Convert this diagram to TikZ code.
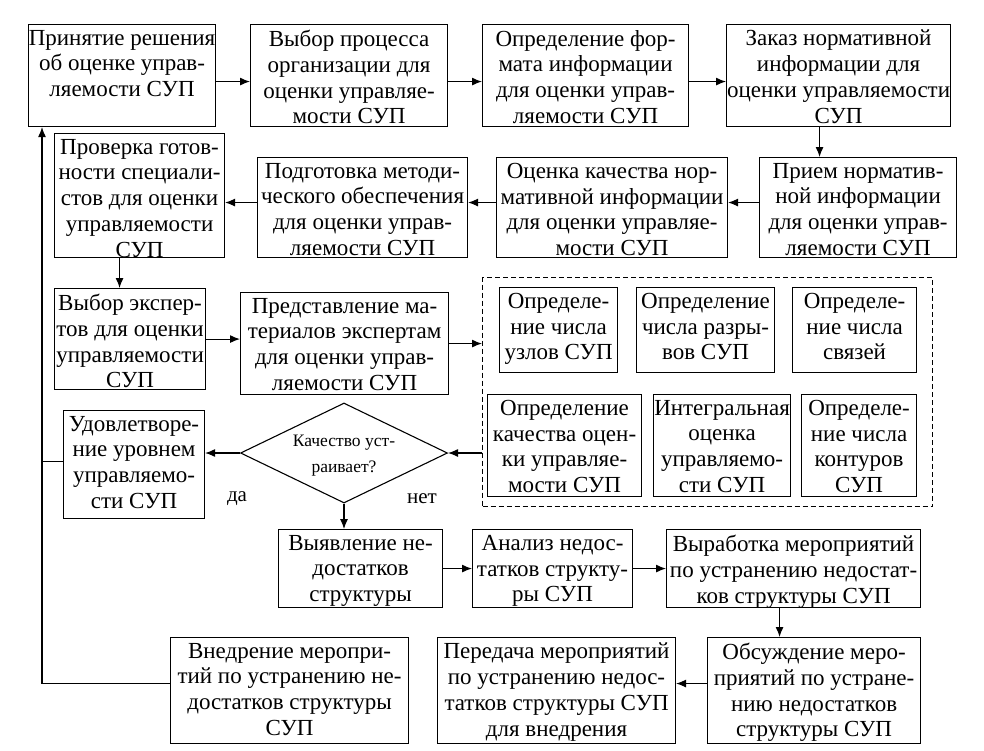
\documentclass[tikz,border=0pt]{standalone}
\usepackage{fontspec}
\setmainfont{Liberation Serif}
\usetikzlibrary{arrows.meta,shapes.geometric,calc}
\newcommand\mybox[6]{%
  \node[box,minimum width={(#4-#2)*1pt},minimum height={(#5-#3)*1pt}] (#1) at (#2,#3) {};
  \node[txt] (#1t) at ([yshift=-6pt]#1.north) {#6};}
\begin{document}
\begin{tikzpicture}[x=1pt,y=-1pt,
  box/.style={draw,line width=1.1pt,inner sep=0pt,anchor=north west},
  txt/.style={font=\fontsize{23}{25.7}\selectfont,align=center,inner sep=0pt,anchor=north},
  lbl/.style={font=\fontsize{21}{25}\selectfont,inner sep=0pt},
  arr/.style={line width=1.1pt,-{Latex[length=10pt,width=8pt]}},
  ln/.style={line width=1.1pt}]
\useasboundingbox (0,0) rectangle (984,750);
% row 1
\mybox{b1}{28}{24}{215}{126}{Принятие решения\\об оценке управ-\\ляемости СУП}
\mybox{b2}{250}{24}{447}{126}{Выбор процесса\\организации для\\оценки управляе-\\мости СУП}
\mybox{b3}{482}{24}{688}{126}{Определение фор-\\мата информации\\для оценки управ-\\ляемости СУП}
\mybox{b4}{726}{24}{950}{126}{Заказ нормативной\\информации для\\оценки управляемости\\СУП}
% row 2
\mybox{b5}{759}{157}{956}{257}{Прием норматив-\\ной информации\\для оценки управ-\\ляемости СУП}
\mybox{b6}{496}{157}{727}{257}{Оценка качества нор-\\мативной информации\\для оценки управляе-\\мости СУП}
\mybox{b7}{257}{157}{467}{257}{Подготовка методи-\\ческого обеспечения\\для оценки управ-\\ляемости СУП}
\mybox{b8}{54}{133}{224}{257}{Проверка готов-\\ности специали-\\стов для оценки\\управляемости\\СУП}
% row 3
\mybox{b9}{54}{288}{205}{389}{Выбор экспер-\\тов для оценки\\управляемости\\СУП}
\mybox{b10}{240}{292}{448}{394}{Представление ма-\\териалов экспертам\\для оценки управ-\\ляемости СУП}
\node[box,dashed,dash pattern=on 5pt off 3pt,line width=1pt,minimum width=450pt,minimum height=229pt] (grp) at (482,277) {};
\mybox{d1}{499}{287}{617}{372}{Определе-\\ние числа\\узлов СУП}
\mybox{d2}{636}{287}{774}{372}{Определение\\числа разры-\\вов СУП}
\mybox{d3}{792}{287}{916}{372}{Определе-\\ние числа\\связей}
\mybox{d4}{487}{394}{641}{496}{Определение\\качества оцен-\\ки управляе-\\мости СУП}
\mybox{d5}{653}{394}{790}{496}{Интегральная\\оценка\\управляемо-\\сти СУП}
\mybox{d6}{801}{394}{916}{496}{Определе-\\ние числа\\контуров\\СУП}
% decision
\node[draw,diamond,line width=1.1pt,inner sep=0pt,minimum width=207pt,minimum height=100pt] (dm) at (344,453) {};
\node[font=\fontsize{17.5}{26}\selectfont,align=center,inner sep=0pt] (dmt) at ([yshift=-3pt]dm.center) {Качество уст-\\раивает?};
\mybox{b11}{63}{410}{204}{518}{Удовлетворе-\\ние уровнем\\управляемо-\\сти СУП}
\node[lbl] (da) at (237,499) {да};
\node[lbl] (net) at (422,499) {нет};
% row 5
\mybox{b12}{278}{529}{442}{607}{Выявление не-\\достатков\\структуры}
\mybox{b13}{472}{529}{632}{607}{Анализ недос-\\татков структу-\\ры СУП}
\mybox{b14}{666}{529}{920}{607}{Выработка мероприятий\\по устранению недостат-\\ков структуры СУП}
% row 6
\mybox{b15}{707}{637}{920}{743}{Обсуждение меро-\\приятий по устране-\\нию недостатков\\структуры СУП}
\mybox{b16}{437}{637}{675}{743}{Передача мероприятий\\по устранению недос-\\татков структуры СУП\\для внедрения}
\mybox{b17}{170}{637}{408}{743}{Внедрение меропри-\\тий по устранению не-\\достатков структуры\\СУП}
% connectors
\draw[arr] ([yshift=-6pt]b1.east) -- ([yshift=-6pt]b2.west);
\draw[arr] ([yshift=-6pt]b2.east) -- ([yshift=-6pt]b3.west);
\draw[arr] ([yshift=-6pt]b3.east) -- ([yshift=-6pt]b4.west);
\draw[arr] ([xshift=-19pt]b4.south) -- ([xshift=-19pt]b4.south |- b5.north);
\draw[arr] ([yshift=5pt]b5.west) -- ([yshift=5pt]b6.east);
\draw[arr] ([yshift=5pt]b6.west) -- ([yshift=5pt]b7.east);
\draw[arr] ([yshift=5pt]b7.west) -- ([yshift=5pt]b7.west -| b8.east);
\draw[arr] ([xshift=-20pt]b8.south) -- ([xshift=-20pt]b8.south |- b9.north);
\draw[arr] (b9.east) -- (b9.east -| b10.west);
\draw[arr] (b10.east) -- (b10.east -| grp.west);
\draw[arr] (grp.west |- dm.east) -- (dm.east);
\draw[arr] (dm.west) -- (dm.west -| b11.east);
\draw[arr] (dm.south) -- (dm.south |- b12.north);
\draw[arr] (b12.east) -- (b13.west);
\draw[arr] (b13.east) -- (b14.west);
\draw[arr] ([xshift=-14pt]b14.south) -- ([xshift=-14pt]b14.south |- b15.north);
\draw[arr] ([yshift=7pt]b15.west) -- ([yshift=7pt]b16.east);
\coordinate (fb) at ([xshift=14pt]b1.south west);
\draw[arr] ([yshift=7pt]b17.west) -| (fb);
\draw[ln] ([yshift=3pt]b11.west) -- ([yshift=3pt]b11.west -| fb);
\end{tikzpicture}
\end{document}
